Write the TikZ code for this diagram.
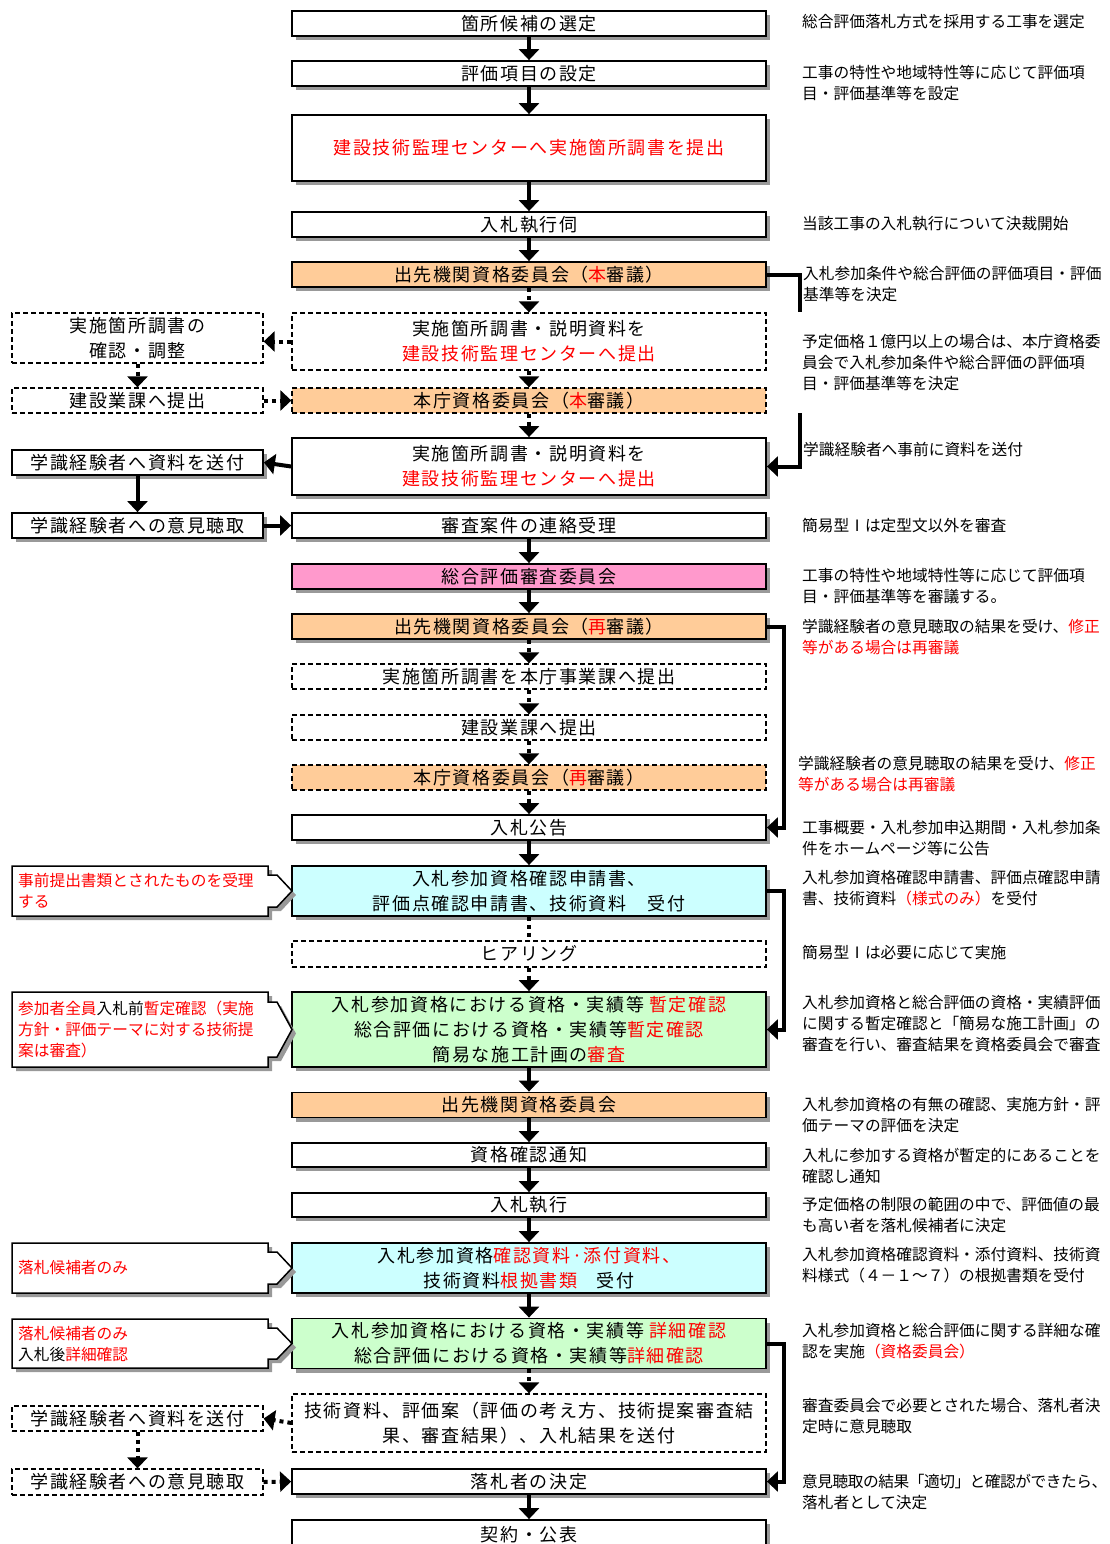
\documentclass[tikz,border=0pt]{standalone}
\usepackage{fontspec}
\setmainfont{Noto Sans CJK JP}
\newfontfamily\jpls[LetterSpace=9]{Noto Sans CJK JP}
\usetikzlibrary{arrows.meta,shadows}
\definecolor{rd}{HTML}{FF0000}
\definecolor{org}{HTML}{FFCC99}
\definecolor{pnk}{HTML}{FF99CC}
\definecolor{cyn}{HTML}{CCFFFF}
\definecolor{grn}{HTML}{CCFFCC}
\definecolor{shd}{HTML}{999999}
\newcommand\rtx[1]{\textcolor{rd}{#1}}
\newcommand\mainfnt{\jpls\fontsize{18}{25}\selectfont}
\newcommand\smallfnt{\fontsize{15.7}{21}\selectfont}
\begin{document}
\begin{tikzpicture}[x=1pt,y=-1pt,
  bx/.style={inner sep=0pt, align=center, font=\mainfnt},
  wm/.style={minimum width=474pt},
  wl/.style={minimum width=251pt},
  sbox/.style={bx, draw, line width=1.8pt, fill=white, drop shadow={shadow xshift=4pt, shadow yshift=-4pt, fill=shd, opacity=1}},
  dbox/.style={bx, draw, line width=1.3pt, dash pattern=on 5pt off 3pt, fill=white},
  arr/.style={line width=4pt, -{Triangle[width=20pt,length=11pt]}},
  darr/.style={arr, dash pattern=on 4pt off 4pt},
  dline/.style={line width=4pt, dash pattern=on 4pt off 4pt},
  elb/.style={line width=4pt},
  rt/.style={anchor=west, inner sep=0pt, align=left, font=\smallfnt},
  cbox/.style={draw, line width=1.5pt, fill=white}
]
\fill[white] (0,0) rectangle (1110,1544);
\useasboundingbox (0,0) rectangle (1110,1544);

% ---------- main column ----------
\node[sbox, wm, minimum height=25pt] (b1) at (529,23.5) {箇所候補の選定};
\node[sbox, wm, minimum height=25pt] (b2) at (529,73.5) {評価項目の設定};
\node[sbox, wm, minimum height=66pt] (b3) at (529,148) {\rtx{建設技術監理センターへ実施箇所調書を提出}};
\node[sbox, wm, minimum height=25pt] (b4) at (529,224.5) {入札執行伺};
\node[sbox, wm, minimum height=25pt, fill=org] (b5) at (529,274.5) {出先機関資格委員会（\rtx{本}審議）};
\node[dbox, wm, minimum height=57pt] (b6) at (529,341.5) {実施箇所調書・説明資料を\\\rtx{建設技術監理センターへ提出}};
\node[dbox, wm, minimum height=25pt, fill=org] (b7) at (529,400.5) {本庁資格委員会（\rtx{本}審議）};
\node[sbox, wm, minimum height=57pt] (b8) at (529,466.5) {実施箇所調書・説明資料を\\\rtx{建設技術監理センターへ提出}};
\node[sbox, wm, minimum height=25pt] (b9) at (529,525.5) {審査案件の連絡受理};
\node[sbox, wm, minimum height=25pt, fill=pnk] (b10) at (529,576.5) {総合評価審査委員会};
\node[sbox, wm, minimum height=25pt, fill=org] (b11) at (529,626.5) {出先機関資格委員会（\rtx{再}審議）};
\node[dbox, wm, minimum height=25pt] (b12) at (529,676.5) {実施箇所調書を本庁事業課へ提出};
\node[dbox, wm, minimum height=25pt] (b13) at (529,727.5) {建設業課へ提出};
\node[dbox, wm, minimum height=25pt, fill=org] (b14) at (529,777.5) {本庁資格委員会（\rtx{再}審議）};
\node[sbox, wm, minimum height=25pt] (b15) at (529,827.5) {入札公告};
\node[sbox, wm, minimum height=50pt, fill=cyn] (b16) at (529,891) {入札参加資格確認申請書、\\評価点確認申請書、技術資料　受付};
\node[dbox, wm, minimum height=26pt] (b17) at (529,954) {ヒアリング};
\node[sbox, wm, minimum height=75pt, fill=grn] (b18) at (529,1029.5) {入札参加資格における資格・実績等\hspace{5pt}\rtx{暫定確認}\\総合評価における資格・実績等\rtx{暫定確認}\\簡易な施工計画の\rtx{審査}};
\node[sbox, wm, minimum height=25pt, fill=org] (b19) at (529,1105) {出先機関資格委員会};
\node[sbox, wm, minimum height=24pt] (b20) at (529,1155) {資格確認通知};
\node[sbox, wm, minimum height=24pt] (b21) at (529,1205) {入札執行};
\node[sbox, wm, minimum height=50pt, fill=cyn] (b22) at (529,1268) {入札参加資格\rtx{確認資料·添付資料、}\\技術資料\rtx{根拠書類}　受付};
\node[sbox, wm, minimum height=50pt, fill=grn] (b23) at (529,1343.5) {入札参加資格における資格・実績等\hspace{5pt}\rtx{詳細確認}\\総合評価における資格・実績等\rtx{詳細確認}};
\node[dbox, wm, minimum height=58pt] (b24) at (529,1423) {技術資料、評価案（評価の考え方、技術提案審査結\\果、審査結果）、入札結果を送付};
\node[sbox, wm, minimum height=25pt] (b25) at (529,1481.5) {落札者の決定};
\node[sbox, wm, minimum height=30pt] (b26) at (529,1535) {契約・公表};

% ---------- left column ----------
\node[dbox, wl, minimum height=50pt] (L1) at (137.5,338) {実施箇所調書の\\確認・調整};
\node[dbox, wl, minimum height=25pt] (L2) at (137.5,400.5) {建設業課へ提出};
\node[sbox, wl, minimum height=25pt] (L3) at (137.5,462.5) {学識経験者へ資料を送付};
\node[sbox, wl, minimum height=25pt] (L4) at (137.5,525.5) {学識経験者への意見聴取};
\node[dbox, wl, minimum height=25pt] (L5) at (137.5,1418.5) {学識経験者へ資料を送付};
\node[dbox, wl, minimum height=26pt] (L6) at (137.5,1482) {学識経験者への意見聴取};

% ---------- callouts ----------
\fill[shd, shift={(4pt,-4pt)}] (12,866)--(268,866)--(268,875)--(277,875)--(292,891)--(277,907)--(268,907)--(268,916)--(12,916)--cycle;
\draw[cbox] (12,866)--(268,866)--(268,875)--(277,875)--(292,891)--(277,907)--(268,907)--(268,916)--(12,916)--cycle;
\fill[shd, shift={(4pt,-4pt)}] (12,992)--(268,992)--(268,1002)--(277,1002)--(292,1029.5)--(277,1057)--(268,1057)--(268,1067)--(12,1067)--cycle;
\draw[cbox] (12,992)--(268,992)--(268,1002)--(277,1002)--(292,1029.5)--(277,1057)--(268,1057)--(268,1067)--(12,1067)--cycle;
\fill[shd, shift={(4pt,-4pt)}] (12,1243)--(268,1243)--(268,1252)--(277,1252)--(292,1268)--(277,1284)--(268,1284)--(268,1293)--(12,1293)--cycle;
\draw[cbox] (12,1243)--(268,1243)--(268,1252)--(277,1252)--(292,1268)--(277,1284)--(268,1284)--(268,1293)--(12,1293)--cycle;
\fill[shd, shift={(4pt,-4pt)}] (12,1319)--(268,1319)--(268,1328)--(277,1328)--(292,1343.5)--(277,1359)--(268,1359)--(268,1368)--(12,1368)--cycle;
\draw[cbox] (12,1319)--(268,1319)--(268,1328)--(277,1328)--(292,1343.5)--(277,1359)--(268,1359)--(268,1368)--(12,1368)--cycle;

\node[rt] (c1) at (18,890.5) {\rtx{事前提出書類とされたものを受理}\\\rtx{する}};
\node[rt] (c2) at (18,1029.5) {\rtx{参加者全員}入札前\rtx{暫定確認（実施}\\\rtx{方針・評価テーマに対する技術提}\\\rtx{案は審査）}};
\node[rt] (c3) at (18,1268) {\rtx{落札候補者のみ}};
\node[rt] (c4) at (18,1344.5) {\rtx{落札候補者のみ}\\入札後\rtx{詳細確認}};

% ---------- right texts ----------
\node[rt] (r1) at (802,22) {総合評価落札方式を採用する工事を選定};
\node[rt] (r2) at (802,83.5) {工事の特性や地域特性等に応じて評価項\\目・評価基準等を設定};
\node[rt] (r3) at (802,224) {当該工事の入札執行について決裁開始};
\node[rt] (r4) at (803,284.5) {入札参加条件や総合評価の評価項目・評価\\基準等を決定};
\node[rt] (r5) at (802,362.5) {予定価格１億円以上の場合は、本庁資格委\\員会で入札参加条件や総合評価の評価項\\目・評価基準等を決定};
\node[rt] (r6) at (803,450) {学識経験者へ事前に資料を送付};
\node[rt] (r7) at (802,526) {簡易型Ⅰは定型文以外を審査};
\node[rt] (r8) at (802,586.5) {工事の特性や地域特性等に応じて評価項\\目・評価基準等を審議する。};
\node[rt] (r9) at (802,637) {学識経験者の意見聴取の結果を受け、\rtx{修正}\\\rtx{等がある場合は再審議}};
\node[rt] (r10) at (798,774) {学識経験者の意見聴取の結果を受け、\rtx{修正}\\\rtx{等がある場合は再審議}};
\node[rt] (r11) at (802,838) {工事概要・入札参加申込期間・入札参加条\\件をホームページ等に公告};
\node[rt] (r12) at (802,888.5) {入札参加資格確認申請書、評価点確認申請\\書、技術資料\rtx{（様式のみ）}を受付};
\node[rt] (r13) at (802,953) {簡易型Ⅰは必要に応じて実施};
\node[rt] (r14) at (802,1024) {入札参加資格と総合評価の資格・実績評価\\に関する暫定確認と「簡易な施工計画」の\\審査を行い、審査結果を資格委員会で審査};
\node[rt] (r15) at (802,1115) {入札参加資格の有無の確認、実施方針・評\\価テーマの評価を決定};
\node[rt] (r16) at (802,1165.5) {入札に参加する資格が暫定的にあることを\\確認し通知};
\node[rt] (r17) at (802,1215.5) {予定価格の制限の範囲の中で、評価値の最\\も高い者を落札候補者に決定};
\node[rt] (r18) at (802,1265.5) {入札参加資格確認資料・添付資料、技術資\\料様式（４－１～７）の根拠書類を受付};
\node[rt] (r19) at (802,1341.5) {入札参加資格と総合評価に関する詳細な確\\認を実施\rtx{（資格委員会）}};
\node[rt] (r20) at (802,1416.5) {審査委員会で必要とされた場合、落札者決\\定時に意見聴取};
\node[rt] (r21) at (802,1492) {{\addfontfeature{LetterSpace=-3}意見聴取の結果「適切」と確認ができたら、}\\落札者として決定};

% ---------- vertical arrows ----------
\draw[arr] (b1.south) -- (b2.north);
\draw[arr] (b2.south) -- (b3.north);
\draw[arr] (b3.south) -- (b4.north);
\draw[arr] (b4.south) -- (b5.north);
\draw[darr] (b5.south) -- (b6.north);
\draw[darr] (b6.south) -- (b7.north);
\draw[darr] (b7.south) -- (b8.north);
\draw[arr] (b9.south) -- (b10.north);
\draw[arr] (b10.south) -- (b11.north);
\draw[darr] (b11.south) -- (b12.north);
\draw[darr] (b12.south) -- (b13.north);
\draw[darr] (b13.south) -- (b14.north);
\draw[darr] (b14.south) -- (b15.north);
\draw[arr] (b15.south) -- (b16.north);
\draw[dline] (b16.south) -- (b17.north);
\draw[darr] (b17.south) -- (b18.north);
\draw[arr] (b18.south) -- (b19.north);
\draw[arr] (b19.south) -- (b20.north);
\draw[arr] (b20.south) -- (b21.north);
\draw[arr] (b21.south) -- (b22.north);
\draw[arr] (b22.south) -- (b23.north);
\draw[darr] (b23.south) -- (b24.north);
\draw[arr] (b25.south) -- (b26.north);

% ---------- side arrows ----------
\draw[darr] (b6.west) -- (b6.west -| L1.east);
\draw[darr] (L1.south) -- (L2.north);
\draw[darr] (L2.east) -- (b7.west);
\draw[arr] (b8.west) -- (L3.east);
\draw[arr] (L3.south) -- (L4.north);
\draw[arr] (L4.east) -- (b9.west);
\draw[darr] (b24.west) -- (L5.east);
\draw[darr] (L5.south) -- (L6.north);
\draw[darr] (L6.east) -- (b25.west);

% ---------- right elbow connectors ----------
\coordinate (k1) at (800,312);
\coordinate (k2) at (800,413);
\draw[elb] (b5.east) -| (k1);
\draw[arr] (k2) |- (b8.east);
\draw[arr] (b11.east) -- ++(17,0) |- (b15.east);
\draw[arr] (b16.east) -- ++(17,0) |- (b18.east);
\draw[arr] (b23.east) -- ++(17,0) |- (b25.east);
\end{tikzpicture}
\end{document}
